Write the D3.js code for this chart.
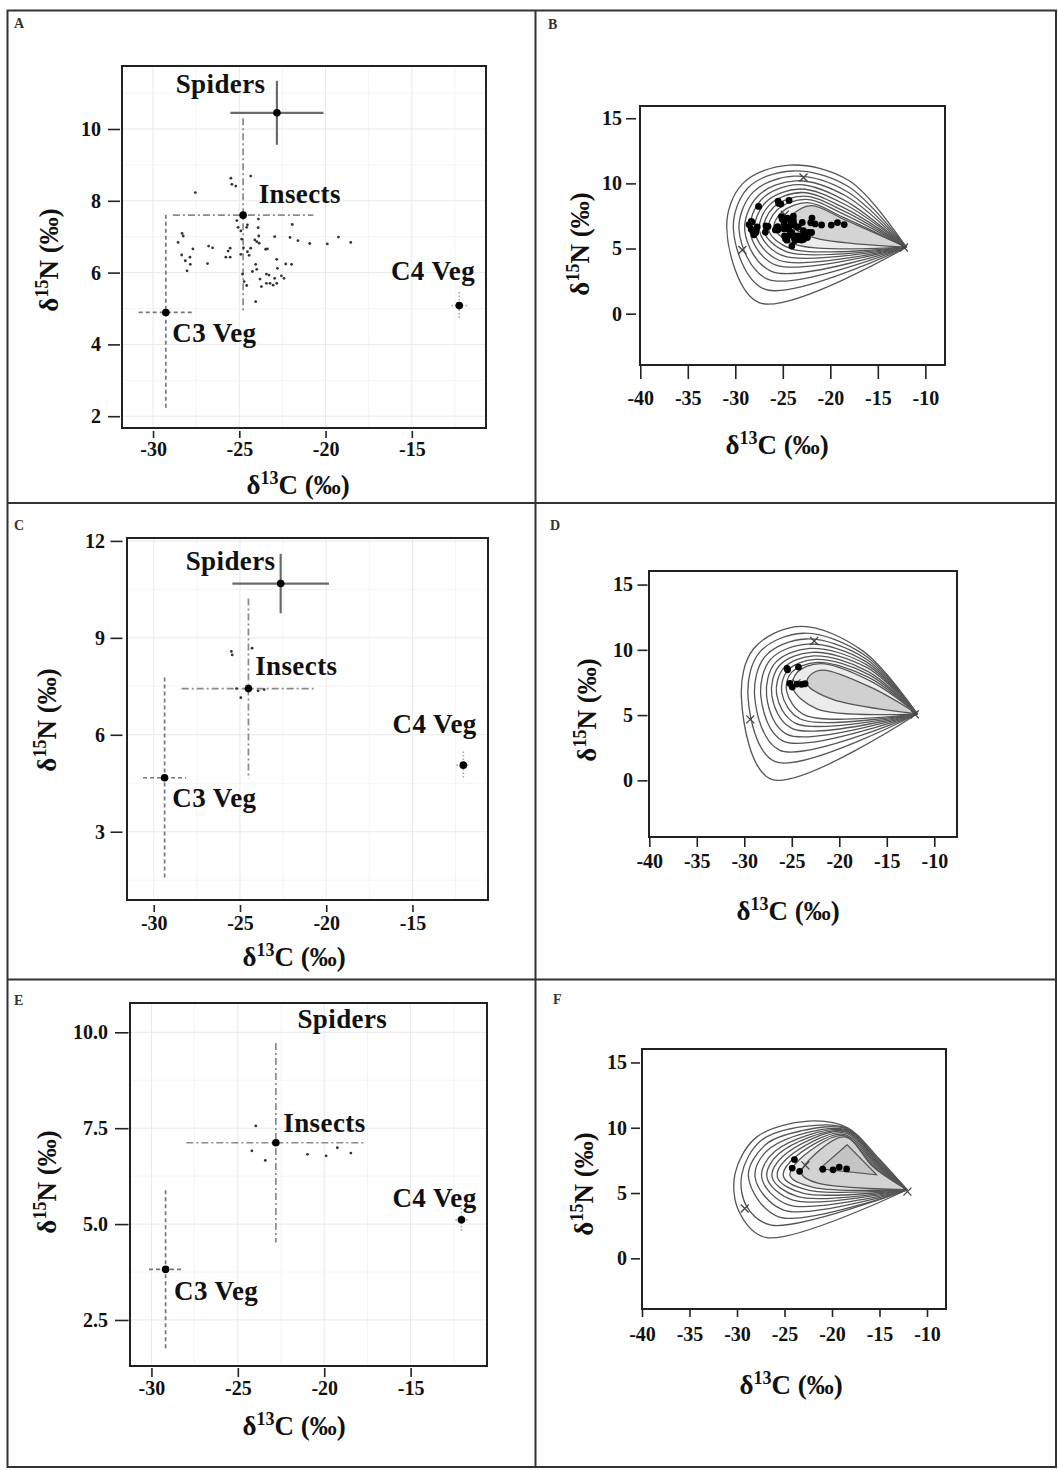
<!DOCTYPE html>
<html>
<head>
<meta charset="utf-8">
<script src="https://cdn.jsdelivr.net/npm/d3@7"></script>
<style>
  body { margin: 0; background: #fff; }
  text { font-family: "Liberation Serif", "Times New Roman", serif; font-weight: bold; }
</style>
</head>
<body>
<svg id="fig" width="1058" height="1470"></svg>
<script>
// ---- data ----
const sourceNames = ['Spiders', 'Insects', 'C3 Veg', 'C4 Veg'];

// consumer (insect) isotope values, d13C / d15N
const insectsA = [
  [-25.49,8.63],[-25.43,8.46],[-24.34,8.69],[-27.55,8.23],[-25.20,8.41],
  [-25.14,7.45],[-25.07,7.26],[-24.91,7.16],[-24.53,7.33],[-23.89,7.49],[-23.91,7.25],[-21.93,7.34],
  [-28.32,7.09],[-28.25,7.02],[-28.55,6.84],[-27.69,6.66],[-26.78,6.74],[-26.55,6.69],
  [-28.34,6.49],[-28.13,6.33],[-27.86,6.43],[-27.84,6.23],[-28.03,6.05],[-26.84,6.25],
  [-25.78,6.43],[-25.53,6.43],[-25.65,6.60],[-25.53,6.68],[-24.86,6.93],[-24.76,6.69],
  [-24.91,6.51],[-24.53,6.58],[-24.43,6.48],[-24.34,6.68],[-24.10,6.91],[-23.99,6.86],
  [-23.85,6.82],[-23.87,7.02],[-23.47,6.65],[-23.37,6.66],[-22.95,7.00],[-22.06,6.98],
  [-21.60,6.89],[-20.92,6.81],[-19.90,6.80],[-19.25,6.99],[-18.54,6.84],[-22.83,6.37],
  [-22.31,6.24],[-21.97,6.23],[-24.05,6.23],[-23.99,6.09],[-22.79,6.12],[-24.82,5.96],
  [-24.72,5.75],[-24.57,5.64],[-24.24,6.03],[-23.80,5.82],[-23.72,5.61],[-23.43,5.96],
  [-23.28,5.93],[-23.43,5.70],[-23.22,5.70],[-23.04,5.65],[-22.83,5.70],[-22.95,5.84],
  [-22.56,5.91],[-22.41,5.84],[-24.05,5.19],[-24.57,7.26]
];
const insectsC = [
  [-25.50,8.58],[-25.45,8.47],[-24.30,8.68],[-25.20,7.43],[-24.95,7.15],
  [-24.45,7.38],[-23.95,7.36],[-23.60,7.40]
];
const insectsE = [
  [-23.96,7.56],[-24.19,6.91],[-23.41,6.66],[-20.97,6.82],[-19.89,6.78],[-19.24,6.99],[-18.46,6.85]
];

// source means and standard deviations [d13C, d15N], order = sourceNames
const meansA = [[-22.82,10.45],[-24.78,7.60],[-29.26,4.89],[-12.25,5.08]];
const sdsA   = [[2.70,0.89],[4.07,2.70],[1.57,2.72],[0.45,0.38]];
const meansC = [[-22.64,10.68],[-24.51,7.43],[-29.37,4.67],[-12.05,5.06]];
const sdsC   = [[2.80,0.92],[3.87,2.79],[1.25,3.10],[0.40,0.42]];
const meansE = [null,[-22.80,7.12],[-29.18,3.82],[-12.06,5.11]];
const sdsE   = [null,[5.18,2.60],[0.96,2.06],[0.35,0.30]];

// label anchors in data units [d13C, d15N, anchor]
const labelsA = [[-23.48,11.00,'end'],[-23.88,7.94,'start'],[-28.88,4.08,'start'],[-11.33,5.79,'end']];
const labelsC = [[-22.94,11.09,'end'],[-24.12,7.85,'start'],[-28.92,3.77,'start'],[-11.27,6.04,'end']];
const labelsE = [[-21.55,10.10,'start'],[-22.37,7.41,'start'],[-28.69,3.02,'start'],[-11.18,5.45,'end']];

// tick values
const xTicksSrc = [-30, -25, -20, -15];
const yTicksA = [2, 4, 6, 8, 10];
const yTicksC = [3, 6, 9, 12];
const yTicksE = [2.5, 5, 7.5, 10];
const xTicksMix = [-40, -35, -30, -25, -20, -15, -10];
const yTicksMix = [0, 5, 10, 15];

// mixing-space probability contours: anchor points, outer -> inner
const apexB = [-12.0, 5.1];
const contoursB = [
  [[-18.0,10.2],[-24.3,11.4],[-29.2,10.0],[-30.9,6.6],[-27.5,0.85]],
  [[-18.2,9.8],[-24.0,10.95],[-28.6,9.7],[-30.2,6.5],[-27.0,1.9]],
  [[-18.3,9.4],[-23.8,10.55],[-28.1,9.35],[-29.6,6.4],[-26.6,2.65]],
  [[-18.4,9.05],[-23.6,10.2],[-27.6,9.05],[-29.0,6.35],[-26.2,3.25]],
  [[-18.5,8.7],[-23.4,9.9],[-27.2,8.8],[-28.45,6.3],[-25.8,3.75]],
  [[-18.5,8.4],[-23.2,9.57],[-26.8,8.55],[-27.95,6.3],[-25.4,4.1]],
  [[-18.5,8.1],[-23.0,9.3],[-26.4,8.35],[-27.45,6.35],[-25.0,4.45]],
  [[-18.5,7.85],[-22.8,9.03],[-26.0,8.15],[-27.0,6.4],[-24.6,4.75]],
  [[-18.5,7.6],[-22.6,8.78],[-25.6,7.95],[-26.5,6.45],[-24.2,5.0]],
  [[-18.5,7.35],[-22.4,8.52],[-25.1,7.8],[-25.9,6.6],[-23.6,5.3]],
  [[-18.3,7.15],[-22.0,8.3],[-23.8,7.7],[-24.4,7.0],[-22.0,5.9]]
];
const apexD = [-11.8, 5.1];
const contoursD = [
  [[-17.5,9.9],[-24.1,11.8],[-29.0,10.1],[-30.3,6.3],[-27.2,0.1]],
  [[-17.4,9.62],[-23.8,11.27],[-28.4,9.8],[-29.6,6.3],[-26.8,1.45]],
  [[-17.3,9.36],[-23.5,10.83],[-27.8,9.5],[-28.9,6.35],[-26.3,2.32]],
  [[-17.2,9.1],[-23.3,10.44],[-27.25,9.25],[-28.25,6.4],[-25.9,3.0]],
  [[-17.1,8.85],[-23.1,10.11],[-26.75,9.0],[-27.65,6.45],[-25.5,3.52]],
  [[-17.0,8.6],[-22.9,9.81],[-26.3,8.8],[-27.1,6.5],[-25.0,3.98]],
  [[-17.0,8.35],[-22.7,9.53],[-25.85,8.6],[-26.6,6.6],[-24.6,4.37]],
  [[-16.9,8.1],[-22.5,9.27],[-25.45,8.4],[-26.05,6.7],[-24.1,4.7]],
  [[-16.8,7.85],[-22.3,9.04],[-25.05,8.25],[-25.55,6.85],[-23.6,5.0]],
  [[-16.7,7.6],[-22.0,8.95],[-24.4,8.3],[-24.9,7.1],[-22.3,5.45]],
  [[-16.6,7.1],[-21.7,8.45],[-23.0,8.1],[-23.4,7.4],[-20.7,6.2]]
];
const apexF = [-12.1, 5.25];
const contoursF = [
  [[-15.15,7.7],[-18.35,10.0],[-22.5,10.5],[-27.9,9.3],[-30.2,6.5],[-29.8,3.6],[-27.0,1.6]],
  [[-15.2,7.62],[-18.4,9.95],[-22.9,10.1],[-27.5,9.0],[-29.5,6.4],[-29.0,4.0],[-26.4,2.55]],
  [[-15.25,7.55],[-18.45,9.9],[-23.3,9.75],[-27.0,8.7],[-28.8,6.3],[-25.7,3.2]],
  [[-15.3,7.5],[-18.5,9.85],[-26.5,8.45],[-28.1,6.25],[-25.1,3.7]],
  [[-15.35,7.45],[-18.55,9.8],[-26.0,8.2],[-27.4,6.2],[-24.6,4.1]],
  [[-15.4,7.4],[-18.6,9.75],[-25.6,8.0],[-26.85,6.2],[-24.1,4.45]],
  [[-15.45,7.32],[-18.65,9.7],[-25.2,7.8],[-26.3,6.2],[-23.6,4.72]],
  [[-15.5,7.25],[-18.7,9.6],[-24.8,7.6],[-25.75,6.2],[-23.0,4.98]],
  [[-15.55,7.15],[-18.75,9.5],[-24.4,7.4],[-25.1,6.25],[-22.5,5.23]],
  [[-15.6,7.05],[-18.8,9.4],[-23.9,7.2],[-24.4,6.3],[-22.0,5.44]],
  [[-15.6,6.95],[-18.7,9.3],[-23.1,6.9],[-23.2,6.45],[-21.5,5.75]]
];
const triangleF = [[-18.4,8.7],[-21.3,6.85],[-15.3,6.4]];

// ---- layout ----
const layout = {
  A: {box:[122,66,486,428],  xDom:[-31.80,-10.70], yDom:[1.671,11.755], xAx:[3,7,4],  yAx:[2,12,7],    xt:[298,494],  yt:[49,260],  tag:[14,28,'A']},
  C: {box:[127,538,488,900], xDom:[-31.55,-10.62], yDom:[0.887,12.09],  xAx:[5,7,4],  yAx:[4.5,12,5.5], xt:[294,966],  yt:[47,720],  tag:[14,530,'C']},
  E: {box:[130,1003,487,1366], xDom:[-31.24,-10.58], yDom:[1.30,10.764], xAx:[2,9,4], yAx:[1.5,13.5,7], xt:[294,1435], yt:[47,1182], tag:[14,1005,'E']},
  B: {box:[640,106,945,365], xDom:[-40.03,-7.93], yDom:[-3.94,15.94],   xAx:[0,14,12], yAx:[4,10,4],    xt:[777,454],  yt:[580,244], tag:[548,29,'B']},
  D: {box:[649,571,957,837], xDom:[-40.03,-7.61], yDom:[-4.34,16.04],   xAx:[0,10,7],  yAx:[1.5,10,4.5], xt:[788,920],  yt:[587,710], tag:[550,530,'D']},
  F: {box:[642,1049,946,1309], xDom:[-40,-8.0],   yDom:[-3.88,16.03],   xAx:[0,8,10],  yAx:[2,9,4],     xt:[791,1394], yt:[584,1184], tag:[553,1004,'F']}
};

const svg = d3.select('#fig');

// outer frame and separators
svg.append('rect').attr('x', 7.5).attr('y', 10.5).attr('width', 1048.5).attr('height', 1456.5)
  .attr('fill', 'none').attr('stroke', '#333').attr('stroke-width', 2);
svg.append('line').attr('x1', 535.5).attr('x2', 535.5).attr('y1', 10.5).attr('y2', 1467)
  .attr('stroke', '#333').attr('stroke-width', 2);
[503, 979.5].forEach(function(yy) {
  svg.append('line').attr('x1', 7.5).attr('x2', 1056).attr('y1', yy).attr('y2', yy)
    .attr('stroke', '#333').attr('stroke-width', 2);
});

function scales(p) {
  const x = d3.scaleLinear().domain(p.xDom).range([p.box[0], p.box[2]]);
  const y = d3.scaleLinear().domain(p.yDom).range([p.box[3], p.box[1]]);
  return [x, y];
}

function axes(g, p, x, y, xt, yt, yFmt) {
  const xa = d3.axisBottom(x).tickValues(xt).tickSize(p.xAx[1]).tickPadding(p.xAx[2])
    .tickFormat(function(d) { return String(d); });
  const ya = d3.axisLeft(y).tickValues(yt).tickSize(p.yAx[1]).tickPadding(p.yAx[2])
    .tickFormat(yFmt);
  const gx = g.append('g').attr('transform', 'translate(0,' + (p.box[3] + p.xAx[0]) + ')').call(xa);
  const gy = g.append('g').attr('transform', 'translate(' + (p.box[0] - p.yAx[0]) + ',0)').call(ya);
  [gx, gy].forEach(function(a) {
    a.select('.domain').remove();
    a.attr('font-family', null).attr('font-size', 20);
    a.selectAll('.tick line').attr('stroke', '#222').attr('stroke-width', 1.6);
    a.selectAll('.tick text').attr('fill', '#111');
  });
}

function titles(g, p) {
  const size = 27;
  const tx = g.append('text').attr('font-size', size).attr('text-anchor', 'middle')
    .attr('x', p.xt[0]).attr('y', p.xt[1]).attr('fill', '#111');
  tx.append('tspan').text('δ');
  tx.append('tspan').attr('dy', -10).attr('font-size', 18).text('13');
  tx.append('tspan').attr('dy', 10).text('C (‰)');

  const ty = g.append('text').attr('font-size', size).attr('text-anchor', 'middle').attr('fill', '#111')
    .attr('transform', 'translate(' + (p.yt[0] + 9) + ',' + p.yt[1] + ') rotate(-90)');
  ty.append('tspan').text('δ');
  ty.append('tspan').attr('dy', -10).attr('font-size', 18).text('15');
  ty.append('tspan').attr('dy', 10).text('N (‰)');

  g.append('text').attr('x', p.tag[0]).attr('y', p.tag[1]).attr('font-size', 14)
    .attr('fill', '#333').text(p.tag[2]);
}

// error bar styles per source
const barStyle = [
  {dash: null,      color: '#6a6a6a', w: 2.2},
  {dash: '7,3,2,3', color: '#8a8a8a', w: 1.7},
  {dash: '4,3',     color: '#777',    w: 1.7},
  {dash: '1.5,2',   color: '#aaa',    w: 1.6}
];

function sourcePanel(p, insects, means, sds, labels, yt, yFmt) {
  const [x, y] = scales(p);
  const g = svg.append('g');
  const b = p.box;

  // grid (major at ticks, minor halfway)
  const xStep = xTicksSrc[1] - xTicksSrc[0];
  const yStep = yt[1] - yt[0];
  const xMinor = [xTicksSrc[0] - xStep / 2].concat(xTicksSrc.map(function(t) { return t + xStep / 2; }))
    .filter(function(v) { return v > p.xDom[0] && v < p.xDom[1]; });
  const yMinor = [yt[0] - yStep / 2].concat(yt.map(function(t) { return t + yStep / 2; }))
    .filter(function(v) { return v > p.yDom[0] && v < p.yDom[1]; });
  g.selectAll('.xmin').data(xMinor).join('line')
    .attr('x1', x).attr('x2', x).attr('y1', b[1]).attr('y2', b[3]).attr('stroke', '#f4f4f4');
  g.selectAll('.ymin').data(yMinor).join('line')
    .attr('y1', y).attr('y2', y).attr('x1', b[0]).attr('x2', b[2]).attr('stroke', '#f4f4f4');
  g.selectAll('.xmaj').data(xTicksSrc).join('line')
    .attr('x1', x).attr('x2', x).attr('y1', b[1]).attr('y2', b[3]).attr('stroke', '#e9e9e9');
  g.selectAll('.ymaj').data(yt).join('line')
    .attr('y1', y).attr('y2', y).attr('x1', b[0]).attr('x2', b[2]).attr('stroke', '#e9e9e9');

  // error bars (mean +/- sd)
  means.forEach(function(m, i) {
    if (!m) return;
    const s = sds[i], st = barStyle[i];
    g.append('line').attr('x1', x(m[0] - s[0])).attr('x2', x(m[0] + s[0]))
      .attr('y1', y(m[1])).attr('y2', y(m[1]))
      .attr('stroke', st.color).attr('stroke-width', st.w).attr('stroke-dasharray', st.dash);
    g.append('line').attr('x1', x(m[0])).attr('x2', x(m[0]))
      .attr('y1', y(m[1] + s[1])).attr('y2', y(m[1] - s[1]))
      .attr('stroke', st.color).attr('stroke-width', st.w).attr('stroke-dasharray', st.dash);
  });

  // consumers
  g.selectAll('.pt').data(insects).join('circle')
    .attr('cx', function(d) { return x(d[0]); }).attr('cy', function(d) { return y(d[1]); })
    .attr('r', 1.4).attr('fill', '#333');

  // source means
  g.selectAll('.mean').data(means.filter(function(m) { return m; })).join('circle')
    .attr('cx', function(d) { return x(d[0]); }).attr('cy', function(d) { return y(d[1]); })
    .attr('r', 3.8).attr('fill', '#000');

  // labels
  labels.forEach(function(l, i) {
    g.append('text').attr('x', x(l[0])).attr('y', y(l[1])).attr('text-anchor', l[2])
      .attr('font-size', 27).attr('letter-spacing', 0.4).attr('fill', '#111').text(sourceNames[i]);
  });

  g.append('rect').attr('x', b[0]).attr('y', b[1]).attr('width', b[2] - b[0]).attr('height', b[3] - b[1])
    .attr('fill', 'none').attr('stroke', '#222').attr('stroke-width', 2);

  axes(g, p, x, y, xTicksSrc, yt, yFmt);
  titles(g, p);
}

function mixPanel(p, contours, apex, fills, consumers, means, triangle) {
  const [x, y] = scales(p);
  const g = svg.append('g');
  const b = p.box;
  const line = d3.line().x(function(d) { return x(d[0]); }).y(function(d) { return y(d[1]); })
    .curve(d3.curveCatmullRom.alpha(0.5));

  const paths = contours.map(function(c) { return [apex].concat(c, [apex]); });
  g.selectAll('.cfill').data(paths).join('path')
    .attr('d', line).attr('fill', function(d, i) { return fills[i] || 'none'; }).attr('stroke', 'none');
  if (triangle) {
    g.append('path').attr('d', d3.line().x(function(d) { return x(d[0]); }).y(function(d) { return y(d[1]); })(triangle) + 'Z')
      .attr('fill', '#c4c4c4').attr('stroke', '#555').attr('stroke-width', 1.2);
  }
  g.selectAll('.cline').data(paths).join('path')
    .attr('d', line).attr('fill', 'none').attr('stroke', '#555').attr('stroke-width', 1.3);

  // source positions (x marks)
  means.forEach(function(m) {
    if (!m) return;
    const cx = x(m[0]), cy = y(m[1]);
    g.append('path').attr('d', 'M' + (cx - 4) + ',' + (cy - 4) + 'L' + (cx + 4) + ',' + (cy + 4) +
      'M' + (cx - 4) + ',' + (cy + 4) + 'L' + (cx + 4) + ',' + (cy - 4))
      .attr('stroke', '#444').attr('stroke-width', 1.3);
  });

  // consumers
  g.selectAll('.dot').data(consumers).join('circle')
    .attr('cx', function(d) { return x(d[0]); }).attr('cy', function(d) { return y(d[1]); })
    .attr('r', 3.4).attr('fill', '#000');

  g.append('rect').attr('x', b[0]).attr('y', b[1]).attr('width', b[2] - b[0]).attr('height', b[3] - b[1])
    .attr('fill', 'none').attr('stroke', '#222').attr('stroke-width', 2);

  axes(g, p, x, y, xTicksMix, yTicksMix, function(d) { return String(d); });
  titles(g, p);
}

const intFmt = function(d) { return String(d); };
const oneDec = function(d) { return d.toFixed(1); };

sourcePanel(layout.A, insectsA, meansA, sdsA, labelsA, yTicksA, intFmt);
sourcePanel(layout.C, insectsC, meansC, sdsC, labelsC, yTicksC, intFmt);
sourcePanel(layout.E, insectsE, meansE, sdsE, labelsE, yTicksE, oneDec);

const shadeB = [null, null, null, null, null, null, null, null, null, '#ececec', '#d4d4d4'];
const shadeD = [null, null, null, null, null, null, null, null, null, '#ececec', '#d0d0d0'];
const shadeF = [null, null, null, null, null, null, null, null, null, '#e4e4e4', '#d2d2d2'];

mixPanel(layout.B, contoursB, apexB, shadeB, insectsA, meansA, null);
mixPanel(layout.D, contoursD, apexD, shadeD, insectsC, meansC, null);
mixPanel(layout.F, contoursF, apexF, shadeF, insectsE, meansE, triangleF);
</script>
</body>
</html>
